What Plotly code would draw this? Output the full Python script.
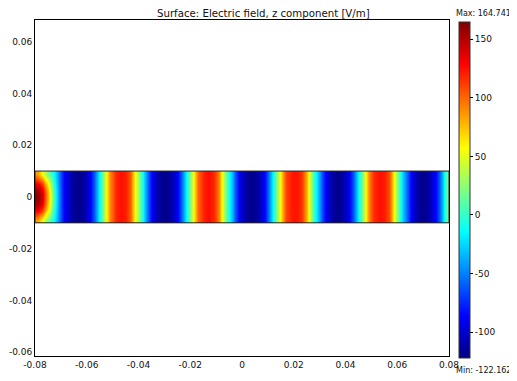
import plotly.graph_objects as go

# ---- data ----
# Domain geometry (x from -0.08 to 0.08, strip half-height 0.01)
x_min, x_max = -0.08, 0.08
strip_half = 0.01
x_first_center, x_step = -0.079, 0.002
y_rows = [-0.009, -0.007, -0.005, -0.003, -0.001, 0.001, 0.003, 0.005, 0.007, 0.009]

# Ez [V/m] along the centre line of the strip, one value per x sample
ez_centerline = [
    160, 138, 78, 8, -45, -85, -103, -114, -120, -110,
    -92, -58, -13, 37, 92, 118, 125, 121, 102, 48,
    -1, -48, -87, -107, -118, -118, -107, -88, -50, -3,
    46, 101, 120, 126, 119, 94, 39, -11, -57, -92,
    -109, -119, -117, -103, -79, -36, 11, 61, 111, 122,
    124, 115, 80, 24, -24, -69, -97, -113, -120, -110,
    -93, -60, -14, 34, 89, 118, 125, 121, 105, 50,
    0, -45, -85, -106, -118, -117, -105, -83, -42, 12,
]

# Near the source edge (x = -0.08) the field depends on |y|:
# rows for |y| = 0.001, 0.003, 0.005, 0.007, 0.009 ; first five x samples
edge_abs_y = [0.001, 0.003, 0.005, 0.007, 0.009]
ez_edge_block = [
    [160, 138, 78, 8, -45],
    [152, 130, 72, 5, -45],
    [135, 112, 60, 0, -46],
    [108, 85, 40, -5, -47],
    [85, 55, 18, -10, -48],
]

ez_min, ez_max = -122.162, 164.741
x_tick_vals = [-0.08, -0.06, -0.04, -0.02, 0, 0.02, 0.04, 0.06, 0.08]
x_tick_text = ["-0.08", "-0.06", "-0.04", "-0.02", "0", "0.02", "0.04", "0.06", "0.08"]
y_tick_vals = [-0.06, -0.04, -0.02, 0, 0.02, 0.04, 0.06]
y_tick_text = ["-0.06", "-0.04", "-0.02", "0", "0.02", "0.04", "0.06"]
cb_tick_vals = [-100, -50, 0, 50, 100, 150]
cb_tick_text = ["-100", "-50", "0", "50", "100", "150"]

# ---- build the field table ----
z = []
for yv in y_rows:
    row = list(ez_centerline)
    idx = min(range(len(edge_abs_y)), key=lambda i: abs(edge_abs_y[i] - abs(yv)))
    row[:len(ez_edge_block[idx])] = ez_edge_block[idx]
    z.append(row)

jet = [
    [0.0, "rgb(0,0,128)"],
    [0.125, "rgb(0,0,255)"],
    [0.375, "rgb(0,255,255)"],
    [0.625, "rgb(255,255,0)"],
    [0.875, "rgb(255,0,0)"],
    [1.0, "rgb(128,0,0)"],
]

font_family = "DejaVu Sans"
# the page body adds an 8 px margin, so the figure is drawn 8 px smaller
W, H = 509, 373

fig = go.Figure()
fig.add_trace(go.Heatmap(
    z=z,
    x0=x_first_center, dx=x_step,
    y=y_rows,
    zmin=ez_min, zmax=ez_max,
    colorscale=jet,
    zsmooth="best",
    colorbar=dict(
        x=1.0242, xanchor="left", xpad=0,
        y=0.494, yanchor="middle", ypad=0,
        len=336, lenmode="pixels",
        thickness=11,
        outlinewidth=1, outlinecolor="#333",
        tickvals=cb_tick_vals, ticktext=cb_tick_text,
        ticks="outside", ticklen=3, tickcolor="#000",
        tickfont=dict(family=font_family, size=9, color="#111"),
    ),
    hoverinfo="skip",
))

fig.add_shape(type="rect", x0=x_min, x1=x_max, y0=-strip_half, y1=strip_half,
              line=dict(color="#222", width=1), layer="above")

fig.update_layout(
    width=W, height=H,
    margin=dict(l=27, r=68, t=12, b=25, autoexpand=False),
    paper_bgcolor="white", plot_bgcolor="white",
    font=dict(family=font_family, size=9, color="#111"),
    xaxis=dict(range=[x_min, x_max], tickvals=x_tick_vals, ticktext=x_tick_text,
               showgrid=False, zeroline=False, showline=True, linecolor="#000",
               linewidth=1, mirror=True, ticks="", tickfont=dict(size=9), automargin=False),
    yaxis=dict(range=[-0.0615, 0.0684], tickvals=y_tick_vals, ticktext=y_tick_text,
               showgrid=False, zeroline=False, showline=True, linecolor="#000",
               linewidth=1, mirror=True, ticks="", tickfont=dict(size=9), automargin=False),
    annotations=[
        dict(text="Surface: Electric field, z component [V/m]", xref="paper", yref="paper",
             x=0.553, y=1.0185, xanchor="center", yanchor="middle", showarrow=False,
             font=dict(family=font_family, size=10.2, color="#111")),
        dict(text="Max: %.3f" % ez_max, xref="paper", yref="paper",
             x=1.0845, y=1.019, xanchor="center", yanchor="middle", showarrow=False,
             font=dict(family=font_family, size=8, color="#111")),
        dict(text="Min: %.3f" % ez_min, xref="paper", yref="paper",
             x=1.0845, y=-0.0417, xanchor="center", yanchor="middle", showarrow=False,
             font=dict(family=font_family, size=8, color="#111")),
    ],
)

fig.write_html("out.html")
